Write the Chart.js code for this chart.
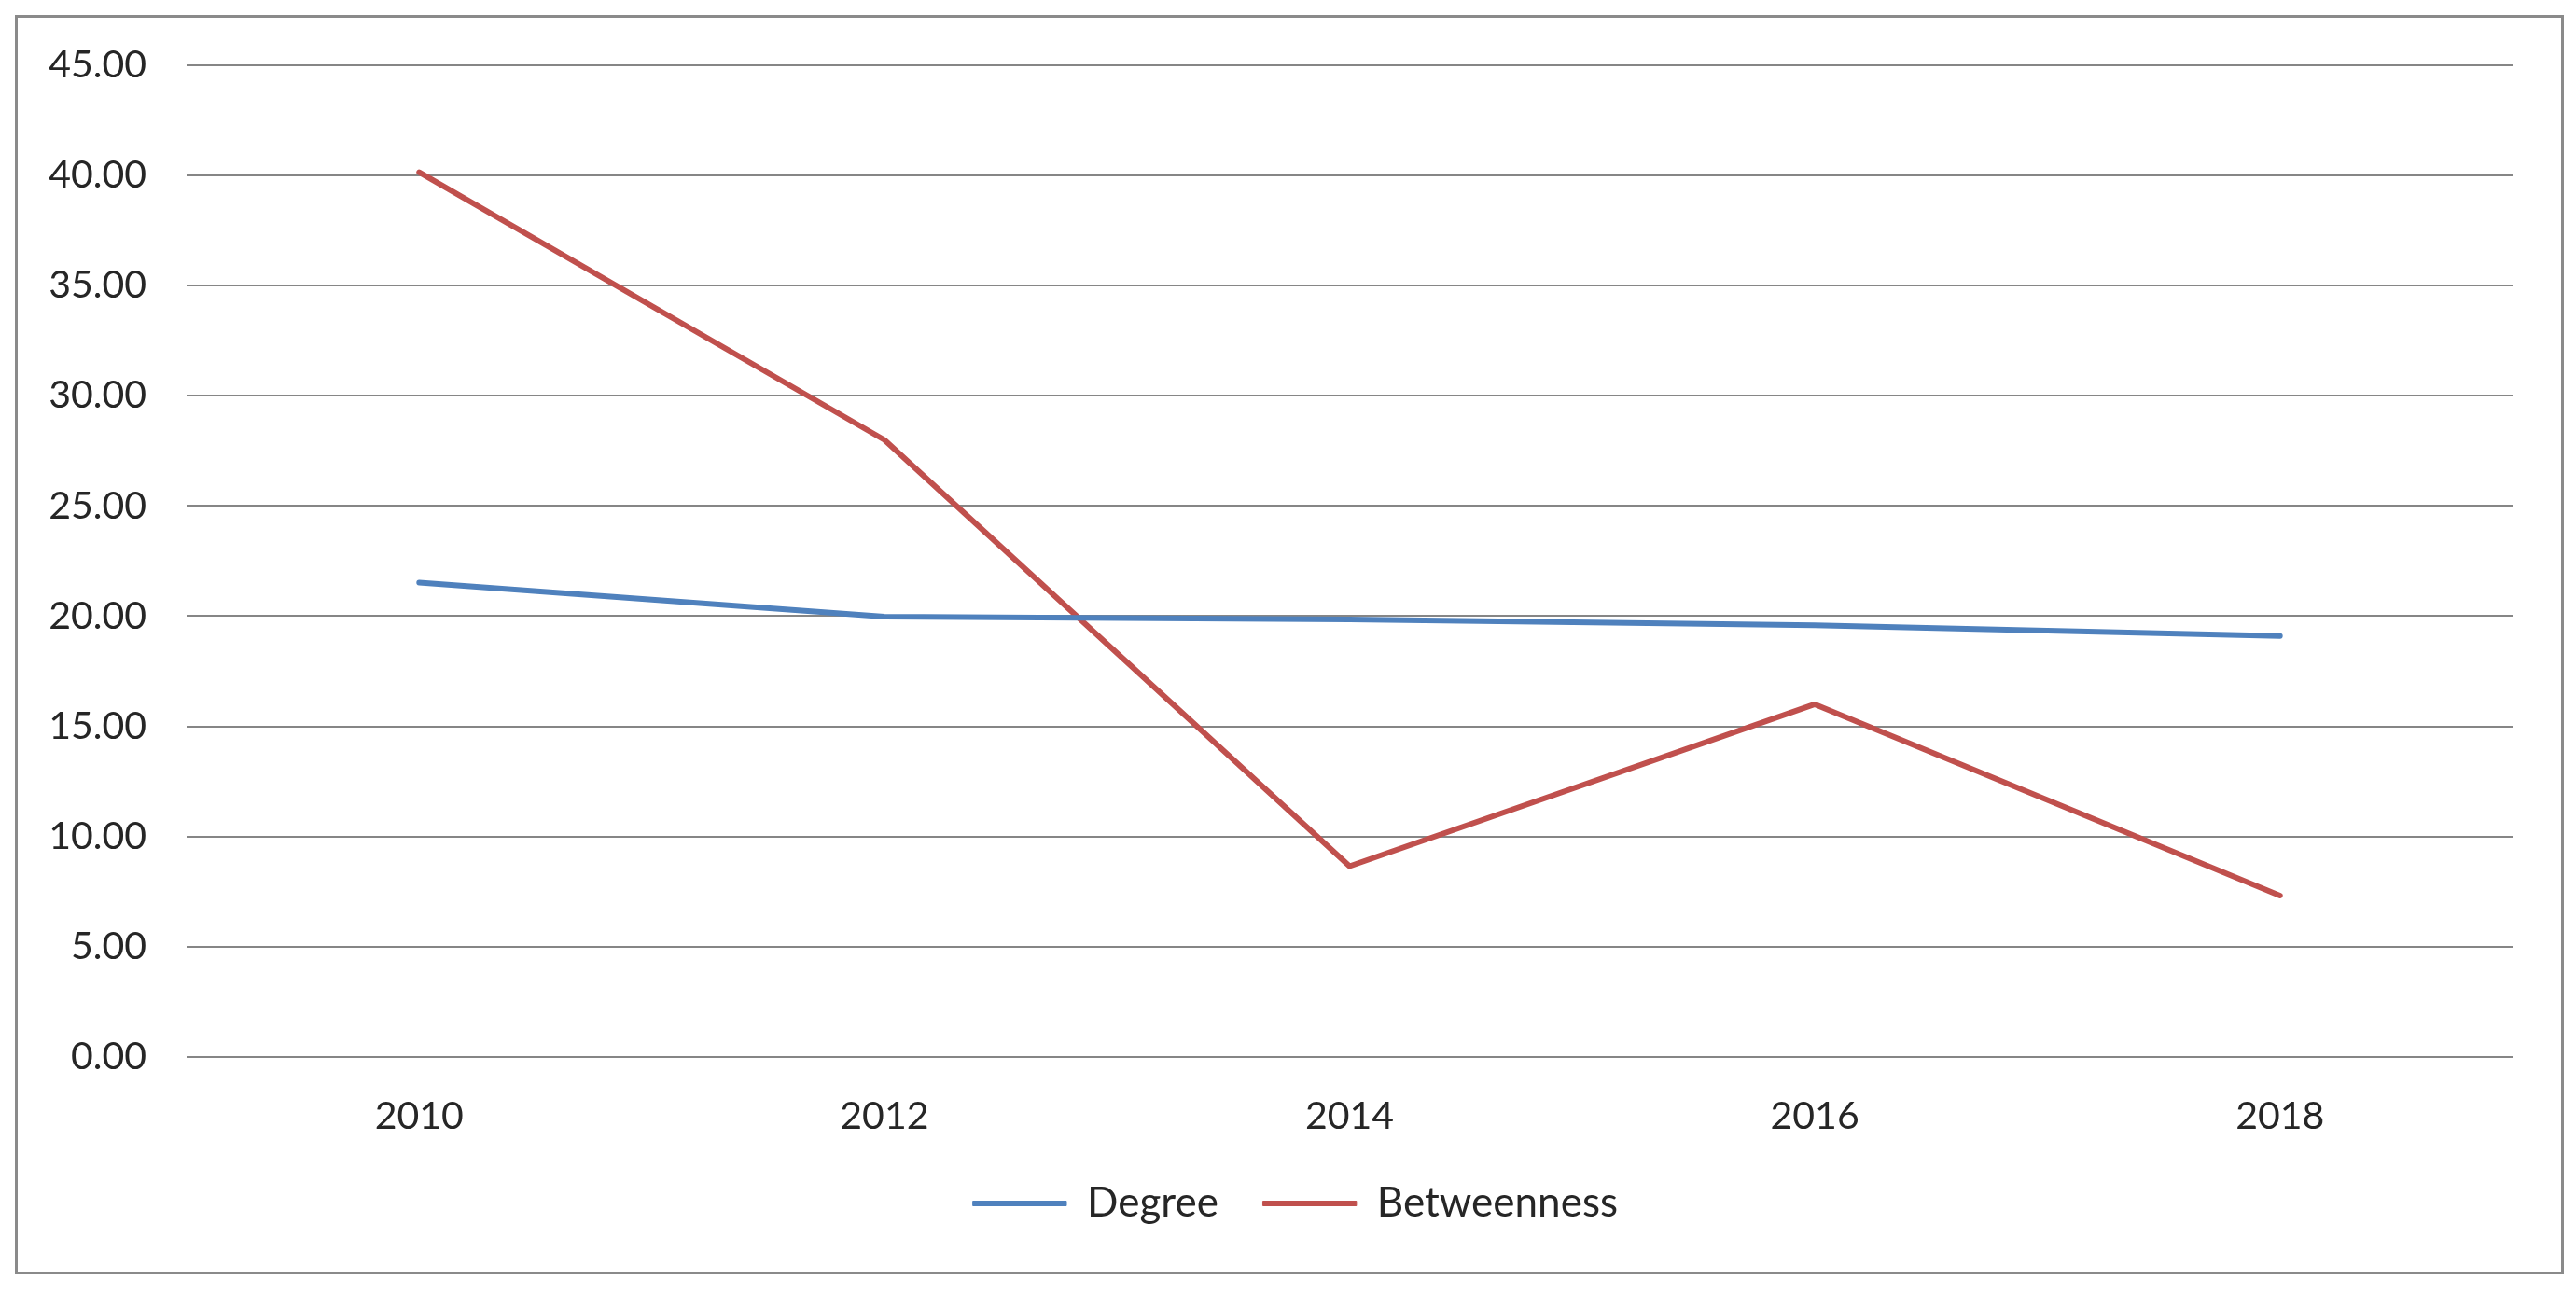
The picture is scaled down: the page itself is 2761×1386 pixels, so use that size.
<!DOCTYPE html>
<html>
<head>
<meta charset="utf-8">
<script src="https://cdn.jsdelivr.net/npm/chart.js@4/dist/chart.umd.min.js"></script>
<style>
  html, body { margin: 0; padding: 0; background: #ffffff; }
  body { width: 2761px; height: 1386px; position: relative; overflow: hidden; }
  #frame { position: absolute; left: 16px; top: 16px; width: 2732px; height: 1350px;
           border: 3px solid #8a8a8a; box-sizing: border-box; }
  #wrap { position: absolute; left: 0; top: 0; width: 2761px; height: 1386px; }
</style>
</head>
<body>
<div id="frame"></div>
<div id="wrap"><canvas id="c" width="2761" height="1386"></canvas></div>
<script>
const categories = ["2010", "2012", "2014", "2016", "2018"];
const degreeValues = [21.52, 19.98, 19.85, 19.58, 19.10];
const betweennessValues = [40.15, 28.00, 8.65, 16.00, 7.32];
const seriesNames = ["Degree", "Betweenness"];
const yTicks = [0, 5, 10, 15, 20, 25, 30, 35, 40, 45];

const FONT = "Lato, 'Liberation Sans', Arial, sans-serif";
const TEXT = "#262626";
const BLUE = "#4F81BD";
const RED = "#C0504D";

// shift the legend so it is centred on the whole frame rather than the plot column
const legendShift = {
  id: "legendShift",
  afterLayout(chart) {
    if (chart.legend) { chart.legend.left += 84; }
  }
};

new Chart(document.getElementById("c"), {
  type: "line",
  data: {
    labels: categories,
    datasets: [
      { label: seriesNames[0], data: degreeValues, borderColor: BLUE, backgroundColor: BLUE,
        borderWidth: 6, pointRadius: 0, tension: 0, borderCapStyle: "round", borderJoinStyle: "round" },
      { label: seriesNames[1], data: betweennessValues, borderColor: RED, backgroundColor: RED,
        borderWidth: 6, pointRadius: 0, tension: 0, borderCapStyle: "round", borderJoinStyle: "round" }
    ]
  },
  plugins: [legendShift],
  options: {
    responsive: false,
    animation: false,
    layout: { padding: { left: 0, right: 68, top: 70, bottom: 64 } },
    plugins: {
      tooltip: { enabled: false },
      legend: {
        position: "bottom",
        labels: {
          color: TEXT,
          font: { family: FONT, size: 44 },
          boxWidth: 100,
          boxHeight: 5,
          padding: 48,
          generateLabels: (chart) => {
            const items = Chart.defaults.plugins.legend.labels.generateLabels(chart);
            items.forEach(it => { it.lineWidth = 1; it.strokeStyle = it.fillStyle; });
            return items;
          }
        }
      }
    },
    scales: {
      x: {
        type: "category",
        offset: true,
        grid: { display: false, drawTicks: false },
        border: { display: false },
        afterFit: (s) => { s.height = s.height - 40; },
        ticks: { color: TEXT, font: { family: FONT, size: 41 }, padding: 39, maxRotation: 0 }
      },
      y: {
        min: 0,
        max: 45,
        afterFit: (s) => { s.width = 200; },
        afterBuildTicks: (s) => { s.ticks = yTicks.map(v => ({ value: v })); },
        grid: { color: "#868686", lineWidth: 2, drawTicks: false },
        border: { display: false },
        ticks: {
          color: TEXT,
          font: { family: FONT, size: 41 },
          padding: 43,
          callback: (v) => Number(v).toFixed(2)
        }
      }
    }
  }
});
</script>
</body>
</html>
